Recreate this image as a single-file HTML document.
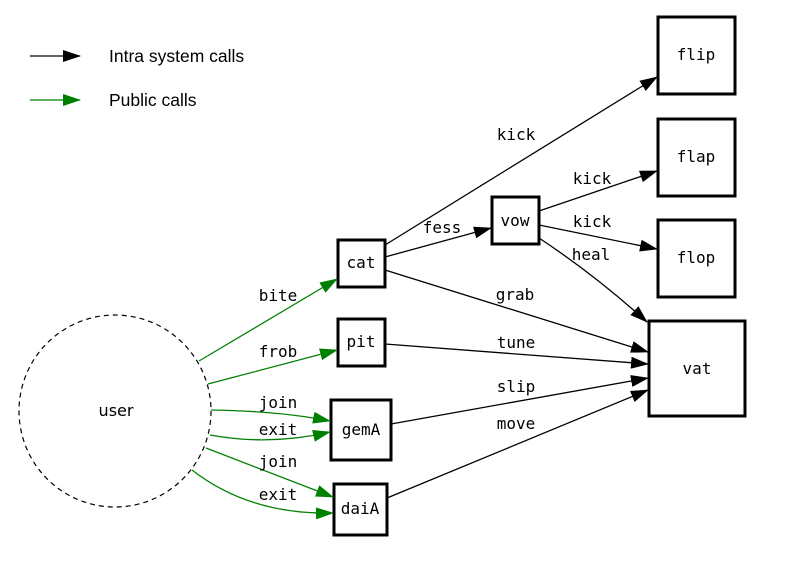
<!DOCTYPE html>
<html><head><style>body{margin:0;background:#fff}svg{display:block}</style></head><body>
<svg width="802" height="580" xmlns="http://www.w3.org/2000/svg">
<defs>
<marker id="ab" markerWidth="18" markerHeight="12" refX="17" refY="6" orient="auto" markerUnits="userSpaceOnUse"><path d="M0,0L18,6L0,12z" fill="#000"/></marker>
<marker id="ag" markerWidth="18" markerHeight="12" refX="17" refY="6" orient="auto" markerUnits="userSpaceOnUse"><path d="M0,0L18,6L0,12z" fill="#008000"/></marker>
</defs>
<line x1="30" y1="56" x2="80" y2="56" stroke="#000" stroke-width="1.3" marker-end="url(#ab)"/>
<line x1="30" y1="100" x2="80" y2="100" stroke="#008000" stroke-width="1.3" marker-end="url(#ag)"/>
<g font-family="Liberation Sans, sans-serif" font-size="17.5" fill="#000">
<text x="109" y="62">Intra system calls</text>
<text x="109" y="106">Public calls</text>
</g>
<circle cx="115" cy="411" r="96" fill="none" stroke="#000" stroke-width="1.2" stroke-dasharray="5,4"/>
<g fill="#fff" stroke="#000" stroke-width="3">
<rect x="338" y="240" width="47" height="47"/>
<rect x="338" y="319" width="47" height="47"/>
<rect x="331" y="400" width="60" height="60"/>
<rect x="334" y="484" width="53" height="51"/>
<rect x="492" y="197" width="47" height="47"/>
<rect x="658" y="17" width="77" height="77"/>
<rect x="658" y="119" width="77" height="77"/>
<rect x="658" y="220" width="77" height="77"/>
<rect x="649" y="321" width="96" height="95"/>
</g>
<g fill="none" stroke="#000" stroke-width="1.3" marker-end="url(#ab)">
<line x1="385" y1="245" x2="657" y2="77"/>
<line x1="385" y1="257" x2="491" y2="228"/>
<line x1="385" y1="270" x2="648" y2="352"/>
<line x1="539" y1="211" x2="657" y2="171"/>
<line x1="539" y1="225" x2="657" y2="249"/>
<path d="M539,238 Q595,275 647,322"/>
<line x1="385" y1="344" x2="648" y2="364"/>
<line x1="391" y1="424" x2="648" y2="378"/>
<line x1="387" y1="498" x2="648" y2="390"/>
</g>
<g fill="none" stroke="#008000" stroke-width="1.3" marker-end="url(#ag)">
<line x1="199" y1="361" x2="337" y2="279"/>
<line x1="208" y1="384" x2="337" y2="350"/>
<path d="M211,410 Q280,411 330,421"/>
<path d="M210,435 Q270,446 330,432"/>
<line x1="206" y1="448" x2="333" y2="497"/>
<path d="M192,470 Q250,515 333,513"/>
</g>
<g font-family="DejaVu Sans Mono, Liberation Mono, monospace" font-size="16" fill="#000" text-anchor="middle">
<text x="116" y="416" font-family="DejaVu Sans, sans-serif">user</text>
<text x="361" y="268">cat</text>
<text x="361" y="347">pit</text>
<text x="361" y="435">gemA</text>
<text x="360" y="514">daiA</text>
<text x="515" y="226">vow</text>
<text x="696" y="60">flip</text>
<text x="696" y="162">flap</text>
<text x="696" y="263">flop</text>
<text x="697" y="374">vat</text>
<text x="516" y="140">kick</text>
<text x="442" y="233">fess</text>
<text x="515" y="300">grab</text>
<text x="592" y="184">kick</text>
<text x="592" y="227">kick</text>
<text x="591" y="260">heal</text>
<text x="516" y="348">tune</text>
<text x="516" y="392">slip</text>
<text x="516" y="429">move</text>
<text x="278" y="301">bite</text>
<text x="278" y="357">frob</text>
<text x="278" y="408">join</text>
<text x="278" y="435">exit</text>
<text x="278" y="467">join</text>
<text x="278" y="500">exit</text>
</g>
</svg>
</body></html>
